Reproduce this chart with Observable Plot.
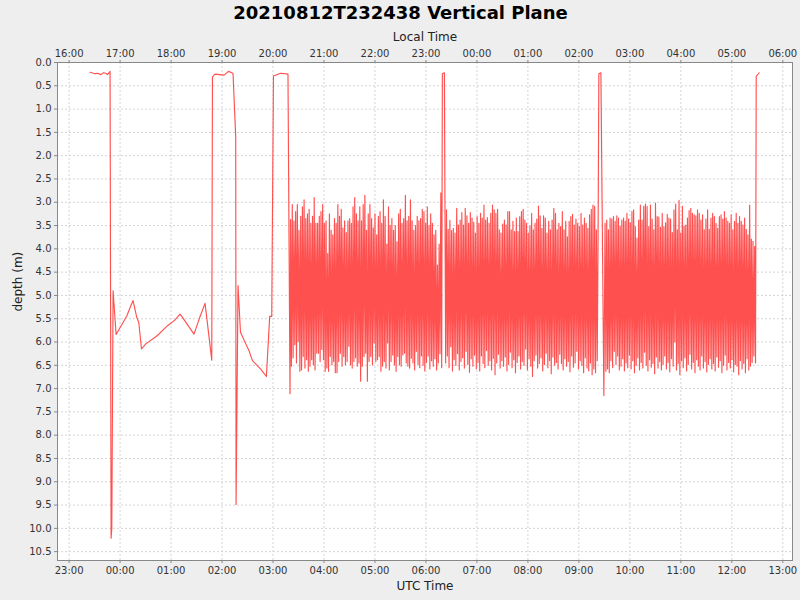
<!DOCTYPE html>
<html>
<head>
<meta charset="utf-8">
<script src="https://cdn.jsdelivr.net/npm/d3@7"></script>
<script src="https://cdn.jsdelivr.net/npm/@observablehq/plot@0.6"></script>
<style>
  html, body { margin: 0; padding: 0; background: #eeeeee; }
  #chart { width: 800px; height: 600px; }
</style>
</head>
<body>
<div id="chart"></div>
<script>
// ---------- data (UTC clock times; depth in metres) ----------
const chartTitle = "20210812T232438 Vertical Plane";

// irregular profile before the regular yo-yo section
const leadTime = ["23:24:38","23:30:36","23:33:30","23:37:18","23:40:30","23:43:12","23:45:12","23:48:12",
  "23:49:25","23:50:14","23:51:46","23:55:18","00:07:54","00:11:48","00:15:18","00:19:36","00:22:00",
  "00:25:12","00:30:12","00:44:00","00:55:48","01:04:24","01:10:36","01:13:24","01:27:00","01:33:48",
  "01:40:00","01:47:54","01:48:42","01:51:48","02:02:24","02:07:30","02:12:54","02:16:06","02:16:30",
  "02:18:48","02:21:42","02:27:54","02:31:48","02:35:48","02:45:30","02:52:12","02:56:06","02:58:30",
  "03:00:30","03:09:00","03:17:36","03:20:00"];
const leadDepth = [0.21,0.24,0.23,0.26,0.22,0.23,0.26,0.19,
  10.21,10.00,4.90,5.84,5.44,5.26,5.11,5.47,5.58,
  6.15,6.04,5.86,5.65,5.53,5.40,5.47,5.83,5.47,
  5.17,6.39,0.31,0.25,0.27,0.19,0.23,1.60,9.49,
  4.79,5.79,6.04,6.19,6.40,6.58,6.74,5.45,5.45,
  0.29,0.23,0.25,7.11];

// yo-yo segment 1 (top, bottom of each cycle)
const seg1Span = ["03:20:40","06:18:30"];
const seg1Top = [3.37,3.05,3.40,3.20,3.05,3.60,3.30,3.10,2.95,3.35,
  3.25,3.15,3.45,3.30,2.90,3.45,3.45,3.30,3.20,3.05,
  3.45,3.40,4.10,3.25,3.60,3.70,3.35,3.45,3.05,3.30,
  3.15,3.55,3.40,3.65,3.40,3.35,3.45,3.10,2.90,3.25,
  3.40,3.10,3.40,3.05,2.85,3.60,3.25,3.05,3.35,3.55,
  3.25,3.70,3.30,3.20,3.45,2.95,3.30,3.90,3.10,3.50,
  3.35,3.60,3.50,3.85,3.25,3.15,3.45,3.35,2.85,3.40,
  3.30,2.95,3.40,3.60,3.50,3.30,3.40,3.35,3.15,3.20,
  3.45,3.10,3.50,3.25,3.45,3.70,3.60,4.35,3.90,2.80];
const seg1Bot = [6.52,6.34,6.06,6.45,5.99,6.63,6.60,6.31,6.56,6.38,
  6.63,6.52,6.38,6.49,6.60,6.24,6.24,6.42,6.16,6.38,
  6.63,6.56,6.63,6.31,6.49,6.42,6.66,6.66,6.42,6.24,
  6.52,6.31,6.49,6.42,6.09,6.49,6.56,6.42,6.34,6.52,
  6.45,6.84,6.52,6.31,6.24,6.84,6.42,6.31,6.49,6.02,
  6.42,6.38,6.31,6.63,6.52,6.42,6.56,6.02,6.60,6.42,
  6.28,6.49,6.63,6.31,6.49,6.52,6.28,6.24,6.45,6.52,
  6.56,6.35,6.45,6.60,6.20,6.48,6.55,6.30,6.50,6.62,
  6.44,6.30,6.58,6.40,6.52,6.36,6.60,6.45,6.25,6.55];

const break1Time = ["06:19:18","06:21:42"];
const break1Depth = [0.24,0.22];

// yo-yo segment 2 (bottom, top of each cycle)
const seg2Span = ["06:23:10","09:22:36"];
const seg2Top = [3.16,3.58,3.39,3.61,3.56,3.66,3.13,3.49,3.38,3.22,
  3.49,3.13,3.29,3.45,3.22,3.34,3.43,3.66,3.31,3.45,
  3.24,3.34,3.06,3.38,3.33,3.45,3.24,3.06,3.16,3.24,
  3.15,3.59,3.66,3.47,3.38,3.49,3.20,3.20,3.59,3.41,
  3.63,3.34,3.63,3.31,3.20,3.15,3.38,3.45,3.66,3.51,
  3.24,3.59,3.45,3.36,3.08,3.29,3.56,3.29,3.34,3.66,
  3.41,3.59,3.38,3.13,3.24,3.59,3.45,3.52,3.20,3.59,
  3.41,3.74,3.41,3.31,3.26,3.49,3.36,3.45,3.52,3.24,
  3.49,3.34,3.45,3.56,3.27,3.15,3.06,3.09,3.59,3.68];
const seg2Bot = [6.45,6.30,6.55,6.10,6.62,6.38,6.50,6.25,6.60,6.42,
  6.34,6.56,6.20,6.48,6.65,6.36,6.52,6.28,6.58,6.44,
  6.62,6.30,6.46,6.55,6.18,6.50,6.40,6.60,6.35,6.70,
  6.45,6.26,6.56,6.40,6.52,6.32,6.62,6.48,6.22,6.55,
  6.38,6.66,6.44,6.30,6.58,6.42,6.50,6.15,6.60,6.36,
  6.52,6.74,6.40,6.28,6.56,6.46,6.34,6.62,6.48,6.24,
  6.55,6.40,6.68,6.32,6.50,6.44,6.58,6.26,6.46,6.60,
  6.36,6.52,6.42,6.64,6.30,6.54,6.45,6.20,6.58,6.40,
  6.50,6.66,6.34,6.56,6.62,6.45,6.70,6.58,6.66,6.40];

const break2Time = ["09:23:30","09:25:54","09:29:24"];
const break2Depth = [0.24,0.22,7.15];

// yo-yo segment 3 (top, bottom of each cycle)
const seg3Span = ["09:30:48","12:27:54"];
const seg3Top = [3.45,3.38,3.59,3.34,3.36,3.31,3.41,3.29,3.34,3.51,
  3.38,3.34,3.41,3.24,3.36,3.44,3.20,3.16,3.52,3.77,
  3.38,3.06,3.38,3.09,3.04,3.09,3.52,3.06,3.36,3.59,
  3.02,3.31,3.32,3.54,3.24,3.52,3.44,3.26,3.34,3.36,
  3.65,3.16,3.04,3.59,2.96,3.66,3.09,3.51,3.49,3.34,
  3.18,3.13,3.24,3.27,3.29,3.16,3.24,3.38,3.27,3.59,
  3.36,3.16,3.58,3.34,3.24,3.31,3.45,3.56,3.31,3.27,
  3.36,3.20,3.34,3.41,3.45,3.27,3.59,3.41,3.24,3.45,
  3.31,3.41,3.49,3.34,3.58,3.70,3.06,3.79,3.84,3.95];
const seg3Bot = [6.63,6.58,6.66,6.40,6.55,6.20,6.48,6.30,6.60,6.52,
  6.36,6.62,6.45,6.55,6.28,6.58,6.40,6.66,6.50,6.34,
  6.60,6.44,6.56,6.22,6.50,6.62,6.38,6.54,6.46,6.68,
  6.32,6.56,6.42,6.60,6.48,6.30,6.58,6.44,6.64,6.36,
  6.52,6.00,6.60,6.46,6.70,6.40,6.55,6.34,6.62,6.48,
  6.26,6.58,6.44,6.66,6.38,6.52,6.60,6.30,6.56,6.42,
  6.64,6.48,6.36,6.58,6.46,6.62,6.32,6.54,6.40,6.66,
  6.50,6.28,6.60,6.44,6.56,6.38,6.64,6.48,6.52,6.70,
  6.40,6.58,6.46,6.66,6.36,6.60,6.52,6.44,6.30,6.45];

const tailTime = ["12:28:42","12:32:12"];
const tailDepth = [0.30,0.22];

const yTicks = [0,0.5,1,1.5,2,2.5,3,3.5,4,4.5,5,5.5,6,6.5,7,7.5,8,8.5,9,9.5,10,10.5];
const localOffsetHours = -7;

// ---------- build table ----------
const toDate = s => new Date((s >= "20:00" ? "2021-08-12T" : "2021-08-13T") + s + "Z");
const rows = [];
const addPts = (times, depths) => times.forEach((s, i) => rows.push({t: toDate(s), d: depths[i]}));
const addSeg = (span, first, second) => {
  const vals = [];
  first.forEach((v, i) => { vals.push(v, second[i]); });
  const t0 = +toDate(span[0]), t1 = +toDate(span[1]);
  vals.forEach((v, i) => rows.push({t: new Date(t0 + (t1 - t0) * i / (vals.length - 1)), d: v}));
};
addPts(leadTime, leadDepth);
addSeg(seg1Span, seg1Top, seg1Bot);
addPts(break1Time, break1Depth);
addSeg(seg2Span, seg2Bot, seg2Top);
addPts(break2Time, break2Depth);
addSeg(seg3Span, seg3Top, seg3Bot);
addPts(tailTime, tailDepth);

const xDomain = [new Date("2021-08-12T22:46:20Z"), new Date("2021-08-13T13:11:25Z")];
const xTicks = d3.utcHours(xDomain[0], xDomain[1]);
const fmt = d3.utcFormat("%H:%M");
const frameCx = (57 + 792) / 2;

const chart = Plot.plot({
  width: 800,
  height: 600,
  marginTop: 62,
  marginBottom: 40,
  marginLeft: 57,
  marginRight: 8,
  style: {fontFamily: "DejaVu Sans, sans-serif", fontSize: "10px", color: "#333", background: "transparent"},
  x: {type: "utc", domain: xDomain},
  y: {domain: [0, 10.69], reverse: true},
  marks: [
    Plot.frame({fill: "white", stroke: "none"}),
    Plot.gridX(xTicks, {stroke: "#d4d4d4", strokeOpacity: 1, strokeDasharray: "2,2"}),
    Plot.gridY(yTicks, {stroke: "#d4d4d4", strokeOpacity: 1, strokeDasharray: "2,2"}),
    Plot.line(rows, {x: "t", y: "d", stroke: "#ff5050", strokeWidth: 1.15}),
    Plot.frame({stroke: "#888888"}),
    Plot.axisX({anchor: "bottom", ticks: xTicks, tickFormat: fmt, tickSize: 3, tickPadding: 3, label: null, stroke: "#888"}),
    Plot.axisX({anchor: "top", ticks: xTicks, tickFormat: d => fmt(new Date(+d + localOffsetHours * 3600e3)), tickSize: 3, tickPadding: 3, label: null, stroke: "#888"}),
    Plot.axisY({anchor: "left", ticks: yTicks, tickFormat: d => d.toFixed(1), tickSize: 3, tickPadding: 3, label: null, stroke: "#888"}),
    Plot.text([chartTitle], {frameAnchor: "top", dx: 400 - frameCx, dy: -56, fontSize: 18, fontWeight: "bold", fill: "black"}),
    Plot.text(["Local Time"], {frameAnchor: "top", dy: -30, fontSize: 12, fill: "#222"}),
    Plot.text(["UTC Time"], {frameAnchor: "bottom", dy: 29, fontSize: 12, fill: "#222"}),
    Plot.text(["depth (m)"], {frameAnchor: "left", dx: -39, rotate: -90, fontSize: 12, fill: "#222"})
  ]
});
document.getElementById("chart").appendChild(chart);
</script>
</body>
</html>
